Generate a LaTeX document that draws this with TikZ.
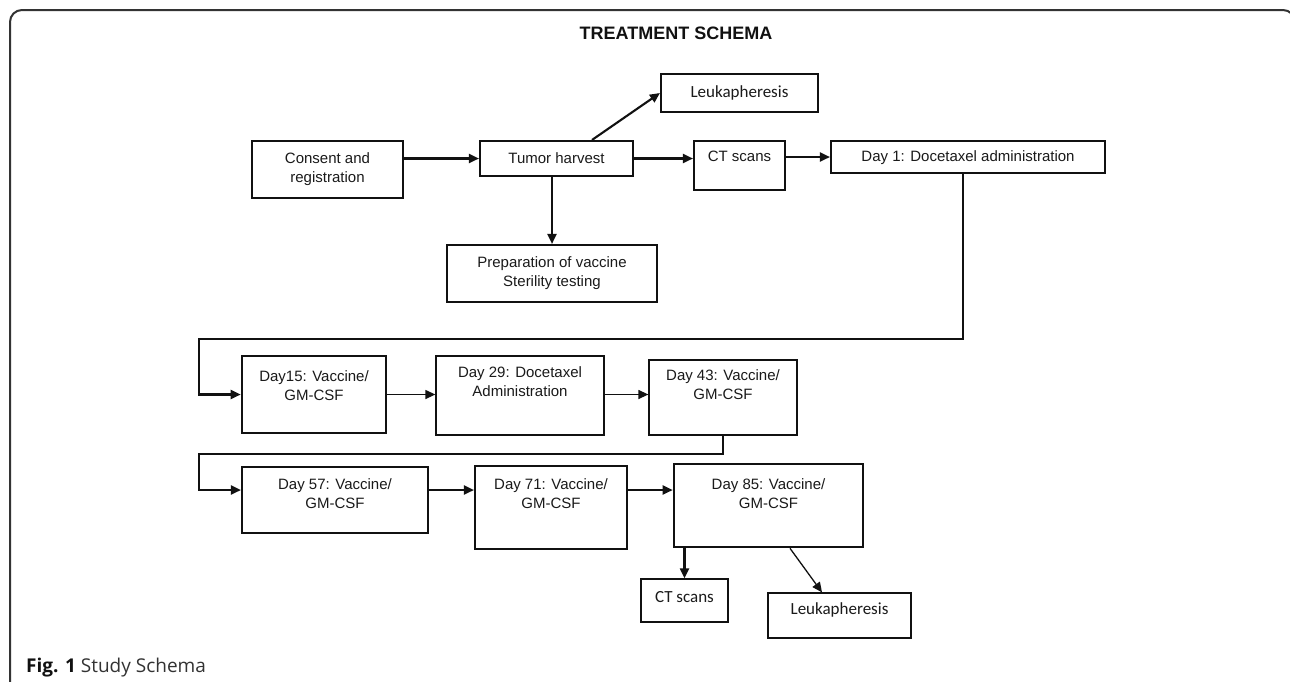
\documentclass[tikz,border=0pt]{standalone}
\usepackage{fontspec}
\setmainfont{Liberation Sans}
\newfontfamily\calfont{Carlito}
\newfontfamily\capfont{Open Sans}
\usetikzlibrary{arrows.meta}
\definecolor{ink}{HTML}{111111}
\definecolor{txtc}{HTML}{1A1A1A}
\definecolor{capgray}{HTML}{333333}
\tikzset{
  bx/.style={draw=ink, inner sep=0pt, line width=2.1pt},
  bxthin/.style={draw=ink, inner sep=0pt, line width=1.3pt},
  bxthick/.style={draw=ink, inner sep=0pt, line width=2.6pt},
  txt/.style={text=txtc, align=center, inner sep=0pt, font=\fontsize{15}{19}\selectfont},
  ctxt/.style={text=txtc, align=center, inner sep=0pt, font=\calfont\fontsize{17}{20}\selectfont},
  arr/.style={draw=ink, line width=2.1pt, -{Triangle[length=10pt,width=9pt]}},
  arrthin/.style={draw=ink, line width=1.3pt, -{Triangle[length=10pt,width=9pt]}},
}
\begin{document}
\begin{tikzpicture}[x=1pt,y=-1pt]
\useasboundingbox (0,0) rectangle (1290,681);
\clip (0,0) rectangle (1290,681);
\fill[white] (0,0) rectangle (1290,681);
% frame
\draw[draw=capgray, line width=2pt, rounded corners=12pt] (10,690) -- (10,10) -- (1295,10) -- (1295,40);
% title
\node[font=\bfseries\fontsize{18}{20}\selectfont, text=ink] (title) at (676,33) {TREATMENT SCHEMA};
% row 1
\node[bx, minimum width=151, minimum height=57] (cons) at (327.5,169.5) {};
\node[txt] (const) at (327.5,169) {Consent and\\registration};
\node[bx, minimum width=153, minimum height=35] (tum) at (556.5,158.5) {};
\node[txt] (tumt) at (556.5,158) {Tumor harvest};
\node[bx, minimum width=157, minimum height=38] (leuk1) at (739.5,93) {};
\node[ctxt] (leuk1t) at (739.5,93) {Leukapheresis};
\node[bx, minimum width=210, minimum height=57] (prep) at (552,273.5) {};
\node[txt] (prept) at (552,273.5) {Preparation of vaccine\\Sterility testing};
\node[bx, minimum width=91, minimum height=49] (ct1) at (739.5,165.5) {};
\node[txt] (ct1t) at (739.5,156) {CT scans};
\node[bx, minimum width=274, minimum height=32] (d1) at (968,157) {};
\node[txt] (d1t) at (968,158) {Day 1: Docetaxel administration};
% row 2
\node[bxthick, minimum width=144, minimum height=77] (d15) at (314,394.5) {};
\node[txt] (d15t) at (314,386) {Day15: Vaccine/\\GM-CSF};
\node[bxthin, minimum width=168, minimum height=79] (d29) at (520,395.5) {};
\node[txt] (d29t) at (520,381.5) {Day 29: Docetaxel\\Administration};
\node[bxthin, minimum width=148, minimum height=75] (d43) at (723,397.5) {};
\node[txt] (d43t) at (723,385) {Day 43: Vaccine/\\GM-CSF};
% row 3
\node[bx, minimum width=186, minimum height=66] (d57) at (335,500) {};
\node[txt] (d57t) at (335,494) {Day 57: Vaccine/\\GM-CSF};
\node[bx, minimum width=152, minimum height=83] (d71) at (551,507.5) {};
\node[txt] (d71t) at (551,494) {Day 71: Vaccine/\\GM-CSF};
\node[bxthick, minimum width=189, minimum height=83] (d85) at (768.5,505.5) {};
\node[txt] (d85t) at (768.5,494) {Day 85: Vaccine/\\GM-CSF};
% bottom
\node[bxthin, minimum width=87, minimum height=43] (ct2) at (684.5,600.5) {};
\node[ctxt] (ct2t) at (684.5,597) {CT scans};
\node[bxthin, minimum width=143, minimum height=45] (leuk2) at (839.5,615.5) {};
\node[ctxt] (leuk2t) at (839.5,610) {Leukapheresis};
% caption
\node[anchor=base west, inner sep=0pt, text=capgray, font=\capfont\fontsize{19}{21}\selectfont] (cap) at (26,672) {\textbf{\color{ink}Fig. 1} Study Schema};
% coordinates
\coordinate (c1) at (199,339);
\coordinate (c2) at (199,454);
\coordinate (c3) at (199,490);
% connectors
\draw[arr] (cons.east |- tum.west) -- (tum.west);
\draw[arr] (tum.east) -- (tum.east -| ct1.west);
\draw[arr] (ct1.east |- d1.west) -- (d1.west);
\draw[arr] (prep.north |- tum.south) -- (prep.north);
\draw[arr] ([xshift=35.5pt]tum.north) -- (leuk1.west);
\draw[arr] ([xshift=-5pt]d1.south) |- (c1) |- (d15.west);
\draw[arrthin] (d15.east) -- (d15.east -| d29.west);
\draw[arrthin] (d29.east |- d15.east) -- (d15.east -| d43.west);
\draw[arr] (d43.south) |- (c2) -- (c3) -- (c3 -| d57.west);
\draw[arr] (c3 -| d57.east) -- (c3 -| d71.west);
\draw[arr] (c3 -| d71.east) -- (c3 -| d85.west);
\draw[arr] (ct2.north |- d85.south) -- (ct2.north);
\draw[arrthin] ([xshift=21.5pt]d85.south) -- ([xshift=-17.5pt]leuk2.north);
\end{tikzpicture}
\end{document}
